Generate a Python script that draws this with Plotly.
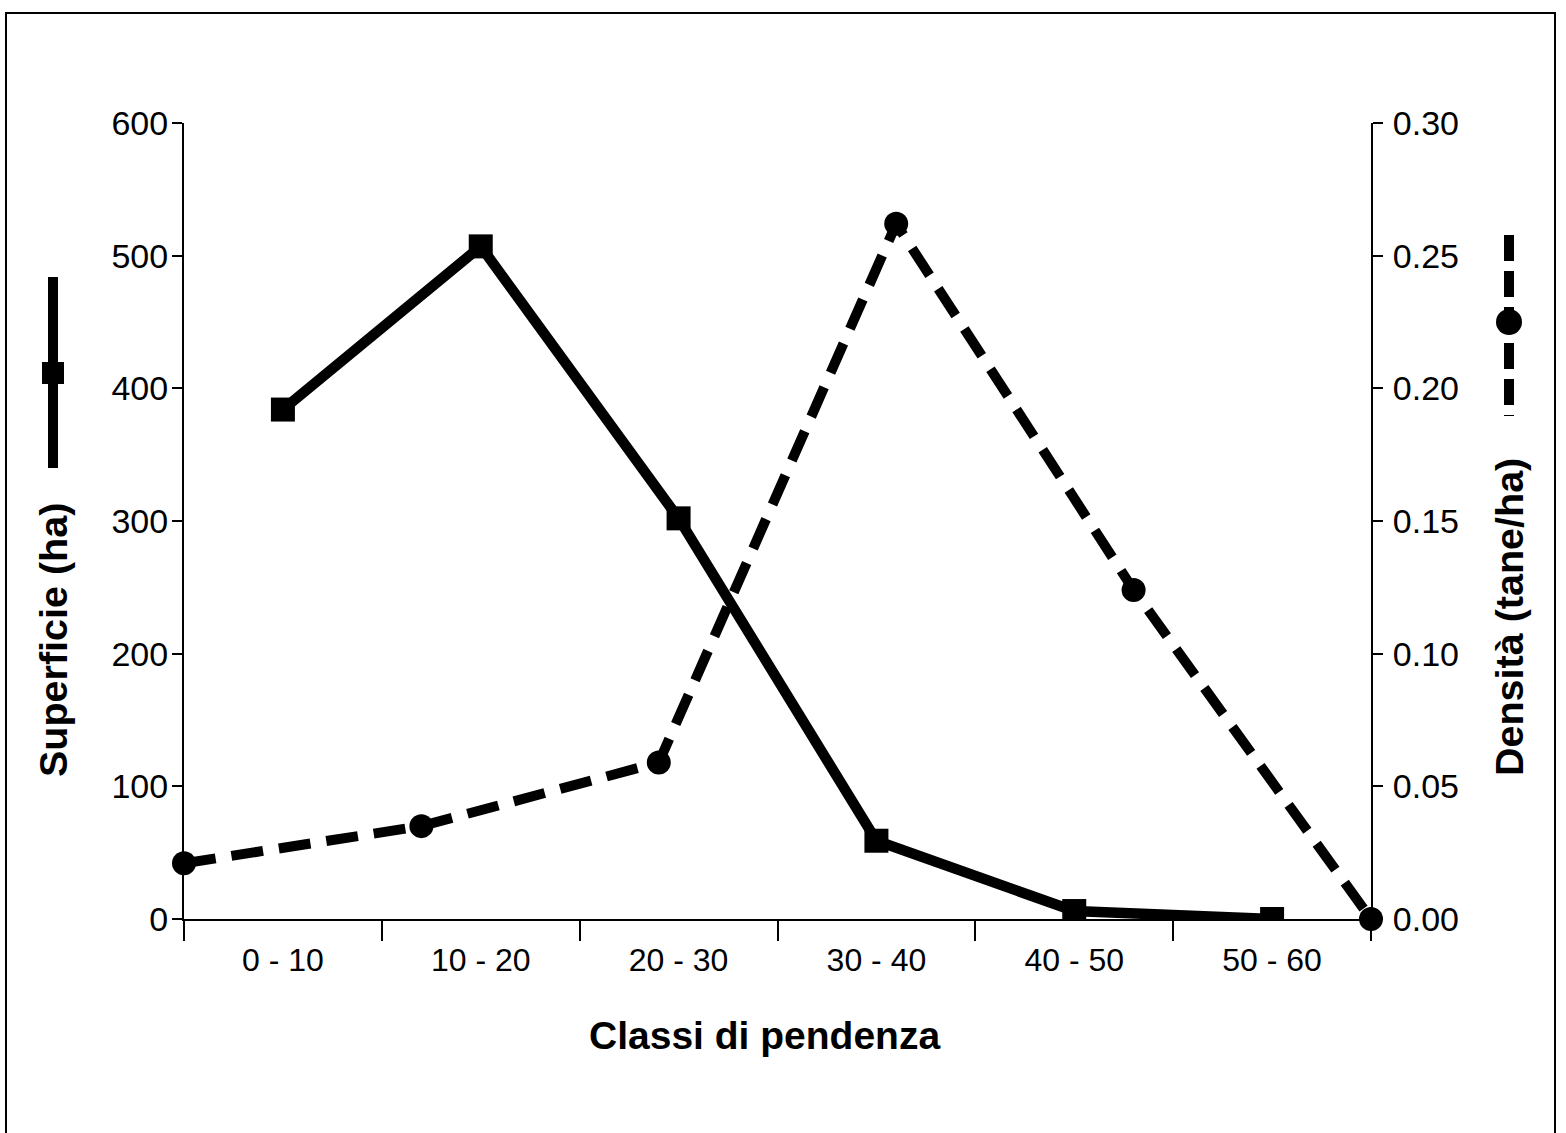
import plotly.graph_objects as go

categories = ["0 - 10", "10 - 20", "20 - 30", "30 - 40", "40 - 50", "50 - 60"]
superficie = [384, 507, 302, 59, 6, 0]
densita = [0.021, 0.035, 0.059, 0.262, 0.124, 0.0]
left_ticks = [0, 100, 200, 300, 400, 500, 600]
right_ticks = [0.0, 0.05, 0.10, 0.15, 0.20, 0.25, 0.30]

W, H = 1566, 1133
L, R, T, B = 184, 1371, 123, 919

def px(x):
    return (x - L) / (R - L)

def py(y):
    return (B - y) / (B - T)

FONT = "Liberation Sans, Arial, sans-serif"

fig = go.Figure()
fig.add_trace(go.Scatter(
    x=categories, y=superficie, mode="lines+markers",
    line=dict(color="black", width=10.5),
    marker=dict(symbol="square", size=24, color="black"),
    xaxis="x", yaxis="y", showlegend=False,
))
fig.add_trace(go.Scatter(
    x=categories, y=densita, mode="lines+markers",
    line=dict(color="black", width=10, dash="32px,16px"),
    marker=dict(symbol="circle", size=24, color="black"),
    xaxis="x2", yaxis="y2", showlegend=False, cliponaxis=False,
))

axis_common = dict(showline=True, linecolor="black", linewidth=2, ticks="outside",
                   tickcolor="black", showgrid=False, zeroline=False)

fig.update_layout(
    width=W, height=H,
    margin=dict(l=L, r=W - R, t=T, b=H - B),
    paper_bgcolor="white", plot_bgcolor="white",
    font=dict(family=FONT, color="black"),
    hovermode=False,
    xaxis=dict(type="category", categoryorder="array", categoryarray=categories,
               range=[-0.5, 5.5], tickson="boundaries", ticklen=20, tickwidth=2,
               tickfont=dict(size=32), ticklabelstandoff=12, **axis_common),
    xaxis2=dict(type="category", categoryorder="array", categoryarray=categories,
                range=[0, 5], overlaying="x", visible=False),
    yaxis=dict(range=[0, 600], tickvals=left_ticks, ticklen=10, tickwidth=2,
               tickfont=dict(size=34), ticklabelstandoff=-3, **axis_common),
    yaxis2=dict(range=[0, 0.30], tickvals=right_ticks, ticktext=[f"{v:.2f}" for v in right_ticks],
                overlaying="y", side="right", ticklen=10, tickwidth=2,
                tickfont=dict(size=34), ticklabelstandoff=3, **axis_common),
)

fig.add_annotation(text="<b>Classi di pendenza</b>", xref="paper", yref="paper",
                   x=px(764), y=py(1035), xanchor="center", yanchor="middle",
                   showarrow=False, font=dict(size=39))
fig.add_annotation(text="<b>Superficie (ha)</b>", xref="paper", yref="paper",
                   x=px(53), y=py(640), xanchor="center", yanchor="middle",
                   showarrow=False, textangle=-90, font=dict(size=39.5))
fig.add_annotation(text="<b>Densità (tane/ha)</b>", xref="paper", yref="paper",
                   x=px(1509), y=py(617), xanchor="center", yanchor="middle",
                   showarrow=False, textangle=-90, font=dict(size=39.5))

# Legend keys next to axis titles
fig.add_shape(type="line", xref="paper", yref="paper", x0=px(53), x1=px(53),
              y0=py(277), y1=py(468), line=dict(color="black", width=10))
fig.add_shape(type="rect", xref="paper", yref="paper", x0=px(42), x1=px(64),
              y0=py(362), y1=py(384), fillcolor="black", line=dict(width=0))
fig.add_shape(type="line", xref="paper", yref="paper", x0=px(1509), x1=px(1509),
              y0=py(235), y1=py(416), line=dict(color="black", width=10, dash="26px,10px"))
fig.add_shape(type="circle", xref="paper", yref="paper", x0=px(1496), x1=px(1522),
              y0=py(309), y1=py(335), fillcolor="black", line=dict(width=0))

# Outer frame
fig.add_shape(type="rect", xref="paper", yref="paper", x0=px(6), x1=px(1555),
              y0=py(1140), y1=py(13), line=dict(color="black", width=2), layer="below")

fig.write_html("out.html", config={"displayModeBar": False, "staticPlot": True},
               post_script="document.body.style.margin='0';document.body.style.overflow='hidden';")
